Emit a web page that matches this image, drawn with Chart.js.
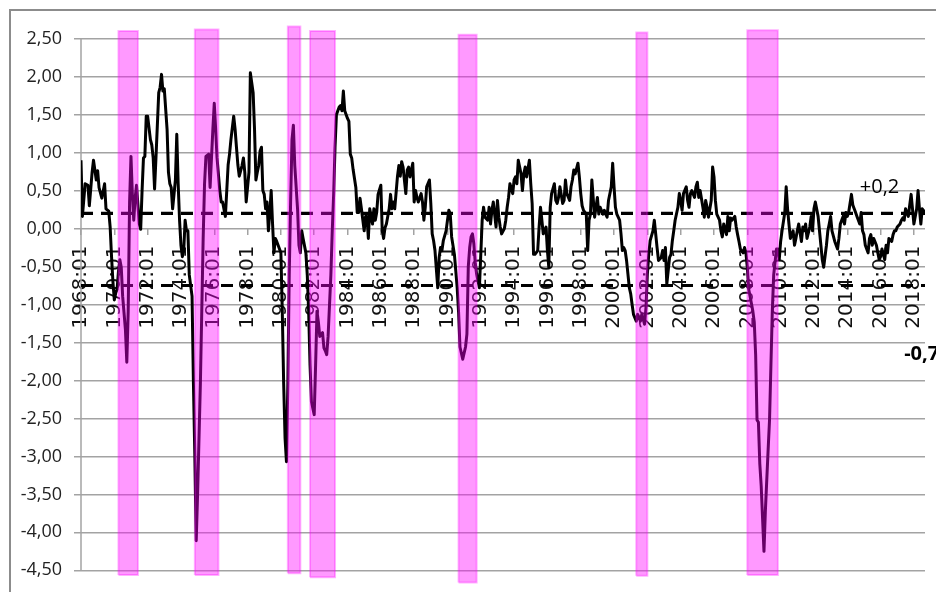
<!DOCTYPE html>
<html>
<head>
<meta charset="utf-8">
<script src="https://cdn.jsdelivr.net/npm/chart.js@4.4.1/dist/chart.umd.min.js"></script>
<style>
  body { margin: 0; background: #fff; }
  #wrap { position: relative; width: 936px; height: 592px; overflow: hidden; }
  #frame { position: absolute; left: 9px; top: 9px; width: 1000px; height: 1000px;
           border-top: 2px solid #8c8c8c; border-left: 2px solid #8c8c8c; }
  #chart { position: absolute; left: 0; top: 0; }
</style>
</head>
<body>
<div id="wrap"><div id="frame"></div><canvas id="chart" width="936" height="592"></canvas></div>
<script>
// observations: month offset counted from 1968:01, and value
var obsMonth = [
  0,1,3,5,6,8,9,11,12,13,
  15,17,18,20,21,22,23,24,25,26,
  27,28,29,30,32,33,34,35,36,37,
  38,39,40,42,43,44,45,46,47,48,
  50,51,52,53,54,56,57,58,59,60,
  62,63,64,65,66,68,69,70,71,72,
  73,74,75,76,77,78,80,81,82,83,
  84,86,87,88,89,90,92,93,94,95,
  96,97,98,100,101,102,104,105,106,107,
  108,110,111,112,113,114,116,117,118,119,
  121,122,124,125,126,127,128,129,130,131,
  132,133,134,135,136,137,138,139,140,141,
  142,144,145,146,147,148,149,150,151,152,
  153,154,156,157,158,159,160,162,163,164,
  165,166,168,169,170,171,172,174,175,176,
  177,178,180,181,182,183,184,186,187,188,
  189,190,192,193,194,195,196,198,199,200,
  201,202,204,205,206,207,208,210,211,212,
  213,214,216,217,218,219,220,222,223,224,
  225,226,228,229,230,231,232,234,235,236,
  237,239,240,241,242,243,245,246,247,248,
  249,251,252,253,254,255,257,258,259,260,
  261,263,264,265,266,267,269,270,271,272,
  273,275,277,278,279,280,281,282,283,284,
  285,287,288,289,290,291,293,294,295,296,
  297,299,300,301,302,303,305,306,307,308,
  309,311,312,313,314,315,317,318,319,320,
  321,323,324,325,326,327,329,330,331,332,
  333,335,336,337,338,339,341,342,343,344,
  345,347,348,349,350,352,353,354,355,356,
  358,359,360,361,362,364,365,366,367,368,
  370,371,372,373,374,376,377,378,379,380,
  382,383,384,385,386,388,389,390,391,392,
  393,394,395,396,397,398,400,401,402,403,
  404,406,407,408,409,410,412,413,414,415,
  416,418,419,420,421,422,424,425,426,427,
  428,430,431,432,433,434,436,437,438,439,
  440,442,443,444,445,446,448,449,450,451,
  452,454,455,456,457,458,460,461,462,463,
  465,466,467,468,469,471,472,473,474,475,
  477,478,479,480,481,483,484,485,486,487,
  488,489,490,492,493,495,496,497,498,499,
  501,502,503,504,505,507,508,509,510,511,
  513,514,515,516,517,519,520,521,522,523,
  525,526,527,528,529,531,532,533,534,535,
  537,538,539,540,541,543,544,545,546,547,
  549,550,551,552,553,555,556,557,558,559,
  561,562,563,564,565,567,568,569,570,571,
  573,574,575,576,577,579,580,581,582,584,
  585,586,587,588,590,591,592,593,594,596,
  597,598,599,600,602,603,604,605,606,608
];
var obsValue = [
  0.90,0.16,0.59,0.57,0.30,0.74,0.90,0.64,0.76,0.54,
  0.40,0.59,0.26,0.23,0.02,-0.37,-0.70,-0.94,-0.85,-0.80,
  -0.56,-0.41,-0.51,-0.89,-1.33,-1.76,-1.09,0.35,0.95,0.45,
  0.11,0.40,0.57,0.06,-0.01,0.50,0.93,0.95,1.48,1.48,
  1.17,1.10,0.93,0.52,0.93,1.79,1.86,2.03,1.81,1.84,
  1.31,0.74,0.59,0.54,0.26,0.64,1.24,0.59,0.11,-0.22,
  -0.37,-0.29,0.11,-0.03,-0.03,-0.61,-0.89,-2.04,-3.00,-4.11,
  -3.49,-2.04,-1.09,-0.13,0.59,0.95,0.98,0.54,0.93,1.31,
  1.65,1.31,0.93,0.50,0.35,0.35,0.16,0.50,0.84,0.98,
  1.17,1.48,1.31,1.07,0.84,0.69,0.83,0.93,0.74,0.35,
  0.74,2.05,1.79,1.31,0.64,0.74,0.83,1.02,1.07,0.50,
  0.45,0.26,0.35,-0.03,0.21,0.50,0.06,-0.32,-0.13,-0.17,
  -0.22,-0.32,-1.09,-2.04,-2.76,-3.07,-2.04,-0.61,0.35,1.17,
  1.36,0.83,0.26,-0.22,-0.32,-0.03,-0.13,-0.32,-0.61,-1.09,
  -1.80,-2.28,-2.45,-1.80,-1.09,-1.23,-1.42,-1.37,-1.57,-1.61,
  -1.66,-1.42,-0.61,-0.03,0.45,1.07,1.50,1.60,1.62,1.55,
  1.81,1.55,1.45,1.41,0.98,0.93,0.78,0.54,0.21,0.21,
  0.40,0.26,-0.03,0.16,0.16,-0.13,0.26,0.06,0.26,0.11,
  0.21,0.45,0.57,-0.03,-0.13,0.01,0.06,0.26,0.45,0.26,
  0.35,0.26,0.69,0.83,0.69,0.88,0.81,0.46,0.77,0.81,
  0.68,0.86,0.35,0.50,0.41,0.35,0.46,0.35,0.11,0.28,
  0.55,0.64,0.33,-0.07,-0.16,-0.29,-0.78,-0.38,-0.25,-0.29,
  -0.16,-0.03,0.11,0.24,0.19,-0.11,-0.34,-0.56,-0.78,-1.10,
  -1.56,-1.72,-1.56,-1.39,-0.50,-0.25,-0.11,-0.07,-0.20,-0.45,
  -0.60,-0.78,-0.34,0.11,0.28,0.15,0.11,0.28,0.06,0.24,
  0.35,0.02,0.37,0.15,0.02,-0.07,0.00,0.11,0.28,0.41,
  0.59,0.46,0.64,0.68,0.59,0.90,0.72,0.50,0.72,0.81,
  0.68,0.90,0.59,0.33,-0.34,-0.34,-0.29,0.02,0.28,0.11,
  -0.07,0.02,-0.29,-0.51,0.28,0.46,0.59,0.37,0.33,0.41,
  0.55,0.33,0.37,0.64,0.46,0.37,0.55,0.64,0.77,0.72,
  0.86,0.68,0.46,0.30,0.24,0.19,-0.29,0.11,0.19,0.64,
  0.15,0.28,0.41,0.19,0.28,0.19,0.24,0.19,0.15,0.37,
  0.55,0.86,0.55,0.28,0.19,0.11,-0.07,-0.29,-0.25,-0.29,
  -0.42,-0.60,-0.78,-0.86,-1.00,-1.13,-1.22,-1.13,-1.17,-1.22,
  -1.13,-1.26,-1.04,-0.60,-0.34,-0.16,-0.03,0.11,-0.07,-0.25,
  -0.42,-0.38,-0.29,-0.42,-0.25,-0.73,-0.38,-0.34,-0.16,-0.03,
  0.11,0.28,0.46,0.37,0.24,0.46,0.55,0.37,0.28,0.46,
  0.50,0.41,0.55,0.61,0.41,0.50,0.28,0.15,0.37,0.28,
  0.15,0.37,0.81,0.68,0.37,0.19,0.11,-0.03,-0.11,0.06,
  -0.08,0.16,-0.03,0.14,0.11,0.16,0.02,-0.08,-0.17,-0.27,
  -0.32,-0.25,-0.32,-0.51,-0.80,-0.99,-1.09,-1.23,-1.66,-2.52,
  -2.55,-3.10,-3.39,-4.25,-3.72,-2.91,-2.52,-1.80,-1.09,-0.61,
  -0.27,-0.27,-0.41,-0.17,-0.03,0.21,0.55,0.26,0.06,-0.13,
  -0.03,-0.22,-0.13,-0.03,0.06,-0.17,0.02,-0.03,0.06,-0.13,
  0.02,0.16,-0.03,0.26,0.35,0.16,-0.03,-0.22,-0.41,-0.51,
  -0.22,-0.03,0.06,0.16,-0.03,-0.17,-0.22,-0.27,-0.13,0.06,
  0.16,0.06,0.21,0.16,0.21,0.45,0.31,0.26,0.21,0.16,
  0.06,0.21,-0.03,-0.08,-0.22,-0.32,-0.13,-0.08,-0.22,-0.13,
  -0.22,-0.32,-0.41,-0.37,-0.27,-0.41,-0.22,-0.32,-0.13,-0.17,
  -0.08,-0.03,-0.03,0.02,0.06,0.11,0.14,0.11,0.26,0.16,
  0.31,0.45,0.26,0.06,0.26,0.50,0.26,0.06,0.26,0.21
];

var firstMonth = '1968:01';
var lastMonth = '2018:09';
var tickLabels = ['1968:01','1970:01','1972:01','1974:01','1976:01','1978:01','1980:01',
  '1982:01','1984:01','1986:01','1988:01','1990:01','1992:01','1994:01','1996:01',
  '1998:01','2000:01','2002:01','2004:01','2006:01','2008:01','2010:01','2012:01',
  '2014:01','2016:01','2018:01'];

// dashed reference levels
var thresholds = [0.2, -0.75];

// shaded periods
var bandStart  = ['1970:04','1974:11','1980:06','1981:10','1990:09','2001:05','2008:01'];
var bandEnd    = ['1971:06','1976:04','1981:03','1983:04','1991:10','2002:01','2009:11'];
var bandTop    = [2.60, 2.62, 2.66, 2.60, 2.55, 2.58, 2.61];
var bandBottom = [-4.56, -4.56, -4.54, -4.59, -4.66, -4.57, -4.56];

function monthIndex(s) {
  var p = s.split(':');
  var f = firstMonth.split(':');
  return (parseInt(p[0], 10) - parseInt(f[0], 10)) * 12 + parseInt(p[1], 10) - parseInt(f[1], 10);
}

var lastIdx = monthIndex(lastMonth);
var datasets = [];

for (var i = 0; i < bandStart.length; i++) {
  var s = monthIndex(bandStart[i]), e = monthIndex(bandEnd[i]);
  datasets.push({
    data: [{x: s, y: bandBottom[i]}, {x: s, y: bandTop[i]}, {x: e, y: bandTop[i]},
           {x: e, y: bandBottom[i]}, {x: s, y: bandBottom[i]}],
    fill: 'shape',
    backgroundColor: 'rgba(255,0,255,0.4)',
    borderColor: 'rgba(255,0,255,0.3)',
    borderWidth: 2,
    order: 0
  });
}

datasets.push({
  data: obsMonth.map(function(m, k) { return {x: m, y: obsValue[k]}; }),
  borderColor: '#000',
  borderWidth: 3,
  borderJoinStyle: 'round',
  fill: false,
  order: 1
});

thresholds.forEach(function(t) {
  datasets.push({
    data: [{x: 0, y: t}, {x: lastIdx, y: t}],
    borderColor: '#000',
    borderWidth: 3.2,
    borderDash: [12, 8],
    fill: false,
    order: 2
  });
});

var axisLine = {
  id: 'axisLine',
  beforeDatasetsDraw: function(chart) {
    var y = chart.scales.y, ctx = chart.ctx;
    ctx.save();
    ctx.strokeStyle = '#a3a3a3';
    ctx.lineWidth = 1.5;
    ctx.beginPath();
    ctx.moveTo(chart.chartArea.left, y.getPixelForValue(y.ticks[y.ticks.length - 1].value));
    ctx.lineTo(chart.chartArea.left, y.getPixelForValue(y.ticks[0].value));
    ctx.stroke();
    ctx.restore();
  }
};

var notes = {
  id: 'notes',
  afterDatasetsDraw: function(chart) {
    var x = chart.scales.x, y = chart.scales.y, ctx = chart.ctx;
    ctx.save();
    ctx.fillStyle = '#000';
    ctx.textBaseline = 'middle';
    ctx.font = '20px "Open Sans"';
    ctx.fillText('+0,2', x.getPixelForValue(561), y.getPixelForValue(0.54));
    ctx.font = 'bold 20px "Open Sans"';
    ctx.fillText('-0,75', x.getPixelForValue(593), y.getPixelForValue(-1.65));
    ctx.restore();
  }
};

new Chart(document.getElementById('chart'), {
  type: 'line',
  data: { datasets: datasets },
  options: {
    responsive: false,
    animation: false,
    devicePixelRatio: 1,
    layout: { padding: { left: 0, right: 11, top: 25, bottom: 8 } },
    elements: { point: { radius: 0 }, line: { tension: 0 } },
    plugins: { legend: { display: false }, tooltip: { enabled: false } },
    scales: {
      x: {
        type: 'linear',
        min: 0,
        max: lastIdx,
        position: { y: 0 },
        afterBuildTicks: function(sc) {
          sc.ticks = tickLabels.map(function(l) { return {value: monthIndex(l)}; });
        },
        afterFit: function(sc) { sc.paddingLeft = 0; sc.paddingRight = 0; },
        ticks: {
          autoSkip: false,
          minRotation: 90,
          maxRotation: 90,
          padding: 11,
          color: '#111',
          font: { family: 'DejaVu Sans', size: 20 },
          callback: function(v, idx) { return tickLabels[idx]; }
        },
        grid: { drawOnChartArea: false, drawTicks: true, tickLength: 6, color: '#a3a3a3', lineWidth: 1.5 },
        border: { display: false }
      },
      y: {
        min: -4.68,
        max: 2.68,
        afterBuildTicks: function(sc) {
          var t = [];
          for (var v = -4.5; v <= 2.5 + 1e-9; v += 0.5) t.push({value: Math.round(v * 100) / 100});
          sc.ticks = t;
        },
        afterFit: function(sc) { sc.width = 81; sc.paddingTop = 0; sc.paddingBottom = 0; },
        ticks: {
          padding: 12,
          color: '#222',
          font: { family: 'Open Sans', size: 18 },
          callback: function(v) { return v.toFixed(2).replace('.', ','); }
        },
        grid: { color: '#a3a3a3', lineWidth: 1.5, tickLength: 7 },
        border: { display: false }
      }
    }
  },
  plugins: [axisLine, notes]
});
</script>
</body>
</html>
